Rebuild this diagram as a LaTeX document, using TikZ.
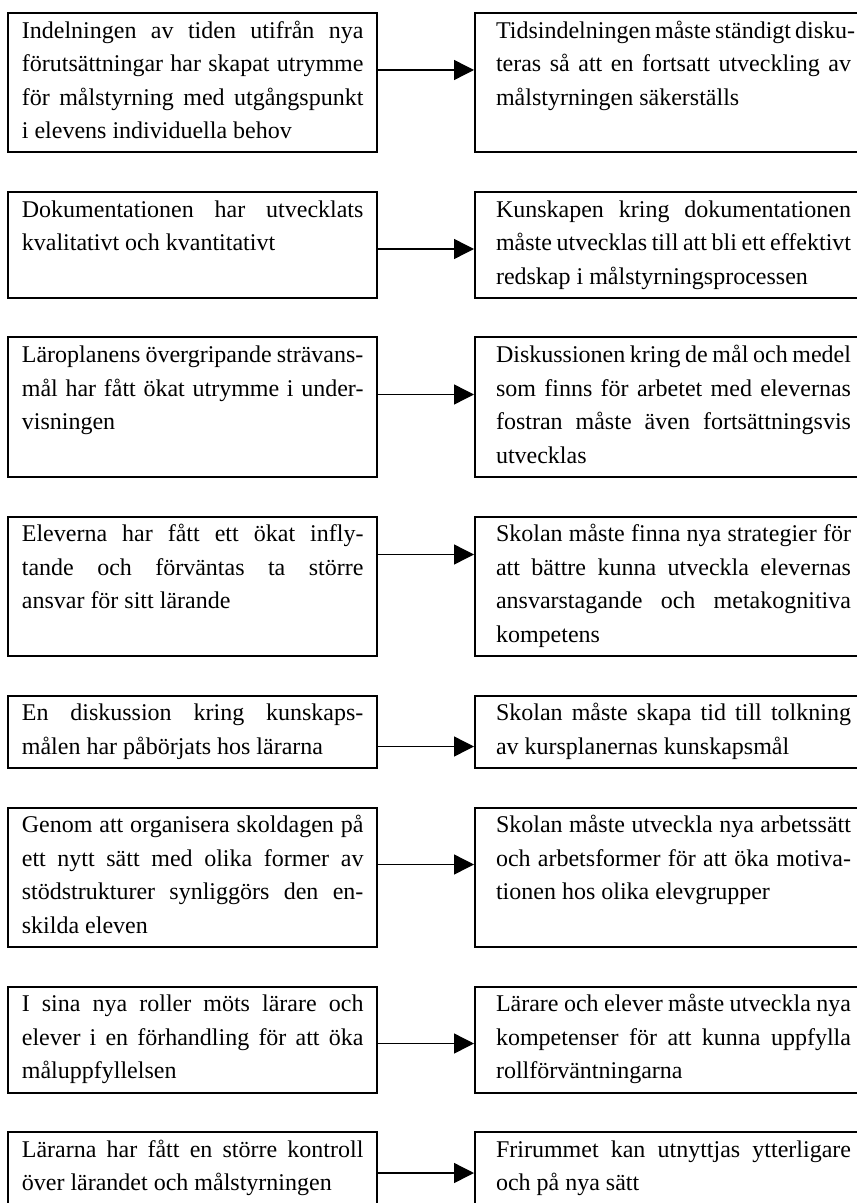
\documentclass[tikz,border=0pt]{standalone}
\usepackage{fontspec}
\setmainfont{Liberation Serif}
\usetikzlibrary{arrows.meta}

% one justified line, one last line, and the body of a box
\newcommand{\jline}[1]{\hbox to\hsize{\strut#1}}
\newcommand{\eline}[1]{\hbox{\strut#1}}
\newcommand{\cellbody}[3]{\vbox to #2{\hsize=#1\relax\vskip0.8pt#3\vfil}}

\begin{document}
\begin{tikzpicture}
        \tikzset{cell/.style = {draw, line width=1pt, anchor=north west, inner ysep=0pt,
                font=\fontsize{12}{16.75}\selectfont}}
        \tikzset{leftcell/.style = {cell, inner xsep=6.78pt}}
        \tikzset{rightcell/.style = {cell, inner xsep=10.5pt}}
        \tikzset{link/.style = {-{Triangle[length=10pt,width=10pt]}, line width=0.7pt}}
        \useasboundingbox (0,0) rectangle (428pt,-601.5pt);
        % row 1
        \node[leftcell] (l1) at (3.65pt,-6pt) {\cellbody{170.8pt}{69.75pt}{%
            \jline{Indelningen av tiden utifrån nya}
            \jline{förutsättningar har skapat utrymme}
            \jline{för målstyrning med utgångspunkt}
            \eline{i elevens individuella behov}}};
        \node[rightcell] (r1) at (237pt,-6pt) {\cellbody{177.5pt}{69.75pt}{%
            \jline{Tidsindelningen måste ständigt disku-}
            \jline{teras så att en fortsatt utveckling av}
            \eline{målstyrningen säkerställs}}};
        % row 2
        \node[leftcell] (l2) at (3.65pt,-95.5pt) {\cellbody{170.8pt}{53pt}{%
            \jline{Dokumentationen har utvecklats}
            \eline{kvalitativt och kvantitativt}}};
        \node[rightcell] (r2) at (237pt,-95.5pt) {\cellbody{177.5pt}{53pt}{%
            \jline{Kunskapen kring dokumentationen}
            \jline{måste utvecklas till att bli ett effektivt}
            \eline{redskap i målstyrningsprocessen}}};
        % row 3
        \node[leftcell] (l3) at (3.65pt,-168.25pt) {\cellbody{170.8pt}{69.75pt}{%
            \jline{Läroplanens övergripande strävans-}
            \jline{mål har fått ökat utrymme i under-}
            \eline{visningen}}};
        \node[rightcell] (r3) at (237pt,-168.25pt) {\cellbody{177.5pt}{69.75pt}{%
            \jline{Diskussionen kring de mål och medel}
            \jline{som finns för arbetet med elevernas}
            \jline{fostran måste även fortsättningsvis}
            \eline{utvecklas}}};
        % row 4
        \node[leftcell] (l4) at (3.65pt,-257.75pt) {\cellbody{170.8pt}{69.75pt}{%
            \jline{Eleverna har fått ett ökat infly-}
            \jline{tande och förväntas ta större}
            \eline{ansvar för sitt lärande}}};
        \node[rightcell] (r4) at (237pt,-257.75pt) {\cellbody{177.5pt}{69.75pt}{%
            \jline{Skolan måste finna nya strategier för}
            \jline{att bättre kunna utveckla elevernas}
            \jline{ansvarstagande och metakognitiva}
            \eline{kompetens}}};
        % row 5
        \node[leftcell] (l5) at (3.65pt,-347.25pt) {\cellbody{170.8pt}{36.25pt}{%
            \jline{En diskussion kring kunskaps-}
            \eline{målen har påbörjats hos lärarna}}};
        \node[rightcell] (r5) at (237pt,-347.25pt) {\cellbody{177.5pt}{36.25pt}{%
            \jline{Skolan måste skapa tid till tolkning}
            \eline{av kursplanernas kunskapsmål}}};
        % row 6
        \node[leftcell] (l6) at (3.65pt,-403.25pt) {\cellbody{170.8pt}{69.75pt}{%
            \jline{Genom att organisera skoldagen på}
            \jline{ett nytt sätt med olika former av}
            \jline{stödstrukturer synliggörs den en-}
            \eline{skilda eleven}}};
        \node[rightcell] (r6) at (237pt,-403.25pt) {\cellbody{177.5pt}{69.75pt}{%
            \jline{Skolan måste utveckla nya arbetssätt}
            \jline{och arbetsformer för att öka motiva-}
            \eline{tionen hos olika elevgrupper}}};
        % row 7
        \node[leftcell] (l7) at (3.65pt,-492.75pt) {\cellbody{170.8pt}{53pt}{%
            \jline{I sina nya roller möts lärare och}
            \jline{elever i en förhandling för att öka}
            \eline{måluppfyllelsen}}};
        \node[rightcell] (r7) at (237pt,-492.75pt) {\cellbody{177.5pt}{53pt}{%
            \jline{Lärare och elever måste utveckla nya}
            \jline{kompetenser för att kunna uppfylla}
            \eline{rollförväntningarna}}};
        % row 8
        \node[leftcell] (l8) at (3.65pt,-565.5pt) {\cellbody{170.8pt}{36.25pt}{%
            \jline{Lärarna har fått en större kontroll}
            \eline{över lärandet och målstyrningen}}};
        \node[rightcell] (r8) at (237pt,-565.5pt) {\cellbody{177.5pt}{36.25pt}{%
            \jline{Frirummet kan utnyttjas ytterligare}
            \eline{och på nya sätt}}};
        % arrows from each finding to its consequence
        \draw[link] ([yshift=-29pt]l1.north east) -- ([yshift=-29pt]r1.north west);
        \draw[link] ([yshift=-29pt]l2.north east) -- ([yshift=-29pt]r2.north west);
        \draw[link] ([yshift=-29pt]l3.north east) -- ([yshift=-29pt]r3.north west);
        \draw[link] ([yshift=-19.5pt]l4.north east) -- ([yshift=-19.5pt]r4.north west);
        \draw[link] ([yshift=-26pt]l5.north east) -- ([yshift=-26pt]r5.north west);
        \draw[link] ([yshift=-29pt]l6.north east) -- ([yshift=-29pt]r6.north west);
        \draw[link] ([yshift=-29pt]l7.north east) -- ([yshift=-29pt]r7.north west);
        \draw[link] ([yshift=-21pt]l8.north east) -- ([yshift=-21pt]r8.north west);
\end{tikzpicture}
\end{document}
